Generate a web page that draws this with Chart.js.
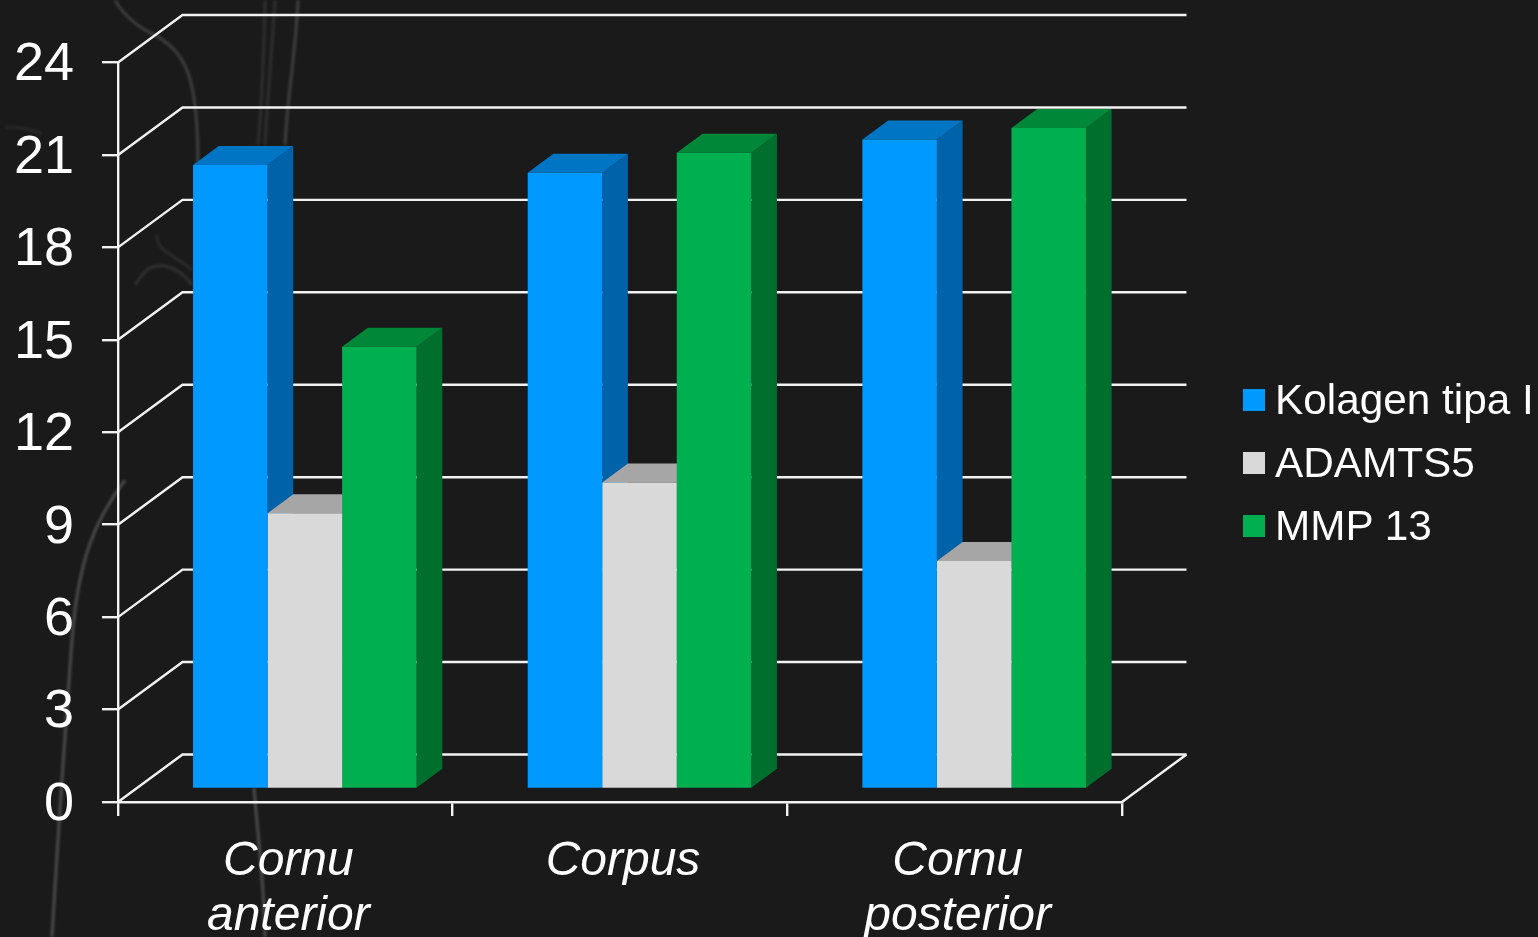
<!DOCTYPE html>
<html>
<head>
<meta charset="utf-8">
<title>Kolagen tipa I, ADAMTS5, MMP 13</title>
<style>
    html, body { margin: 0; padding: 0; width: 1538px; height: 937px; overflow: hidden; background: #1a1a1a; }
    #bgLines, #chartKu { position: absolute; left: 0; top: 0; }
    #bgLines { filter: blur(1px); }
    #legendKu { position: absolute; left: 1243px; top: 368px; font: 42.3px "Liberation Sans", Arial, sans-serif; color: #fff; }
    #legendKu div { display: flex; align-items: center; height: 63px; white-space: nowrap; }
    #legendKu span { display: block; width: 22px; height: 22px; margin-right: 10px; }
</style>
<script src="https://cdn.jsdelivr.net/npm/chart.js@4"></script>
</head>
<body>
<!-- garis samar di latar belakang -->
<svg id="bgLines" width="1538" height="937" fill="none" stroke="#3a3a3a" stroke-width="3.5">
    <path d="M115 0 C125 18 140 28 160 38 C185 55 198 75 198 165" />
    <path d="M265 0 C264 50 262 100 258 145" stroke="#2c2c2c" />
    <path d="M275 0 C272 50 268 90 265 145" stroke="#2c2c2c" />
    <path d="M298 0 C296 50 288 90 285 145" />
    <path d="M125 480 C95 520 78 560 72 640 C66 720 60 800 52 937" stroke="#444" />
    <path d="M254 788 C258 840 264 880 265 937" stroke="#444" />
    <path d="M135 285 C145 270 150 264 165 266 C175 268 185 275 192 285" stroke="#2e2e2e" />
    <path d="M157 235 C155 250 175 255 192 270" stroke="#2a2a2a" />
    <path d="M5 127 C20 126 30 130 42 133" stroke="#262626" />
</svg>
<canvas id="chartKu" width="1538" height="937"></canvas>
<div id="legendKu"></div>

<script>
// Data
const kategori = [['Cornu', 'anterior'], 'Corpus', ['Cornu', 'posterior']];
const namaSeri = ['Kolagen tipa I', 'ADAMTS5', 'MMP 13'];
const kolagen = [20.25, 20.0, 21.08];
const adamts5 = [8.95, 9.95, 7.4];
const mmp13 = [14.35, 20.65, 21.45];
const yMax = 24;
const yStep = 3;

// Warna: depan, atas, samping
const warnaDepan = ['#0099ff', '#d9d9d9', '#00b050'];
const warnaAtas = ['#0075c4', '#a6a6a6', '#008737'];
const warnaSamping = ['#0062a8', '#8c8c8c', '#006f2e'];

const WARNA_GARIS = '#f2f2f2';
const FONT = '"Liberation Sans", Arial, sans-serif';

// Kedalaman dinding dan batang (efek 3D)
const DINDING_X = 64.5, DINDING_Y = 47.5;
const GESER_X = 19.5, GESER_Y = 13;
const DALAM_X = 25.7, DALAM_Y = 19;

function bidang(ctx, warna, titik) {
    ctx.fillStyle = warna;
    ctx.beginPath();
    titik.forEach((p, i) => i ? ctx.lineTo(p[0], p[1]) : ctx.moveTo(p[0], p[1]));
    ctx.closePath();
    ctx.fill();
}

// Dinding belakang, lantai, lalu sisi atas dan samping batang
const pluginDinding = {
    id: 'dinding',
    beforeDatasetsDraw(chart) {
        const { ctx, chartArea: area, scales } = chart;
        const kiri = area.left, kanan = area.right;
        ctx.save();
        ctx.strokeStyle = WARNA_GARIS;
        ctx.lineWidth = 2.4;
        scales.y.ticks.forEach(t => {
            const y = scales.y.getPixelForValue(t.value);
            ctx.beginPath();
            ctx.moveTo(kiri, y);
            ctx.lineTo(kiri + DINDING_X, y - DINDING_Y);
            ctx.lineTo(kanan + DINDING_X, y - DINDING_Y);
            ctx.stroke();
        });
        const y0 = scales.y.getPixelForValue(0);
        ctx.beginPath();
        ctx.moveTo(kanan, y0);
        ctx.lineTo(kanan + DINDING_X, y0 - DINDING_Y);
        ctx.stroke();
        ctx.restore();

        // urutan seri: biru dulu, hijau terakhir, supaya saling menutup dengan benar
        ctx.save();
        ctx.translate(GESER_X, -GESER_Y);
        chart.data.datasets.forEach((ds, idx) => {
            chart.getDatasetMeta(idx).data.forEach(b => {
                const l = b.x - b.width / 2, r = b.x + b.width / 2;
                bidang(ctx, warnaSamping[idx], [
                    [r, b.y], [r + DALAM_X, b.y - DALAM_Y],
                    [r + DALAM_X, b.base - DALAM_Y], [r, b.base]
                ]);
                bidang(ctx, warnaAtas[idx], [
                    [l, b.y], [l + DALAM_X, b.y - DALAM_Y],
                    [r + DALAM_X, b.y - DALAM_Y], [r, b.y]
                ]);
            });
        });
        ctx.restore();
    },
    // bagian depan batang digeser ke tengah lantai
    beforeDatasetDraw(chart) {
        chart.ctx.save();
        chart.ctx.translate(GESER_X, -GESER_Y);
    },
    afterDatasetDraw(chart) {
        chart.ctx.restore();
    }
};

function buatSeri(i, nilai) {
    return {
        label: namaSeri[i],
        data: nilai,
        backgroundColor: warnaDepan[i],
        borderWidth: 0
    };
}

function buatLegend() {
    const legend = document.getElementById('legendKu');
    namaSeri.forEach((nama, i) => {
        const baris = document.createElement('div');
        baris.innerHTML = `<span style="background:${warnaDepan[i]}"></span>${nama}`;
        legend.appendChild(baris);
    });
}

new Chart(document.getElementById('chartKu'), {
    type: 'bar',
    data: {
        labels: kategori,
        datasets: [buatSeri(0, kolagen), buatSeri(1, adamts5), buatSeri(2, mmp13)]
    },
    options: {
        responsive: false,
        animation: false,
        layout: { padding: { top: 62.5, right: 416, left: 0, bottom: 0 } },
        datasets: { bar: { categoryPercentage: 0.668, barPercentage: 1 } },
        plugins: { legend: { display: false }, title: { display: false }, tooltip: { enabled: false } },
        scales: {
            x: {
                afterFit(scale) { scale.height = 135; },
                grid: { drawOnChartArea: false, color: WARNA_GARIS, lineWidth: 2.4, tickLength: 14, tickColor: WARNA_GARIS },
                border: { color: WARNA_GARIS, width: 2.4 },
                ticks: {
                    color: '#ffffff',
                    padding: 18,
                    labelOffset: 3,
                    maxRotation: 0,
                    autoSkip: false,
                    font: { family: FONT, size: 48, style: 'italic', lineHeight: 1.15 }
                }
            },
            y: {
                min: 0,
                max: yMax,
                afterFit(scale) { scale.width = 118; },
                grid: { drawOnChartArea: false, color: WARNA_GARIS, lineWidth: 2.4, tickLength: 16, tickColor: WARNA_GARIS },
                border: { color: WARNA_GARIS, width: 2.4 },
                ticks: {
                    stepSize: yStep,
                    color: '#ffffff',
                    padding: 28,
                    labelOffset: 3,
                    font: { family: FONT, size: 54 }
                }
            }
        }
    },
    plugins: [pluginDinding]
});

buatLegend();
</script>
</body>
</html>
